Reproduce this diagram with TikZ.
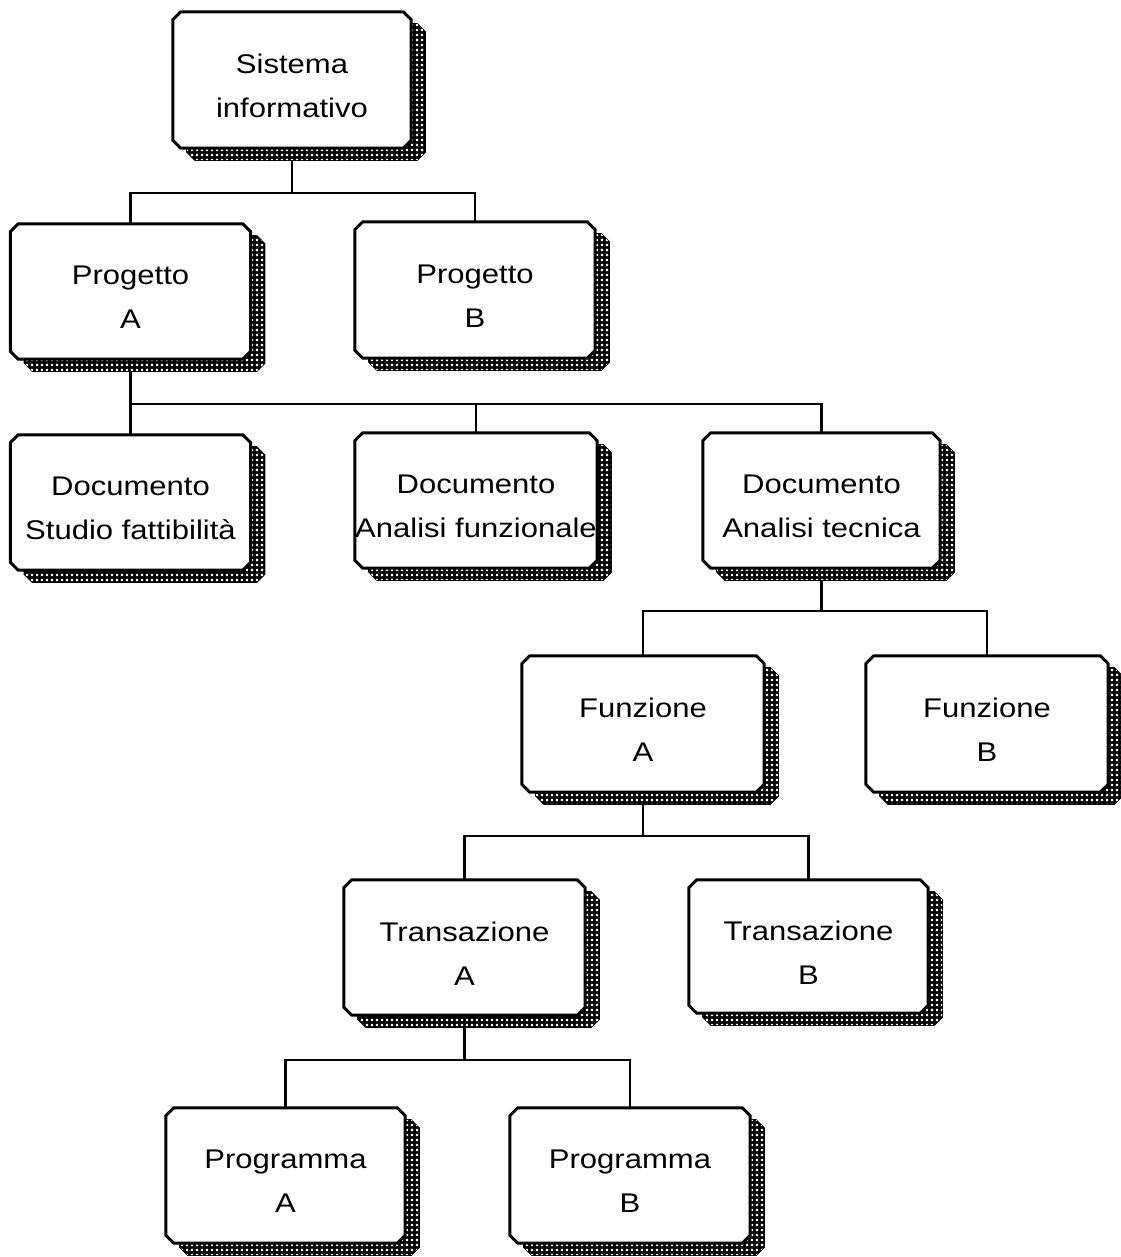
\documentclass[tikz,border=0pt]{standalone}
\usepackage{fontspec}
\setmainfont{Liberation Sans}[FakeStretch=1.15]
\usetikzlibrary{patterns,backgrounds}
\pgfdeclarepatternformonly{whitedots}{\pgfpointorigin}{\pgfqpoint{5pt}{5pt}}{\pgfqpoint{5pt}{5pt}}{%
  \pgfpathrectangle{\pgfqpoint{1pt}{1pt}}{\pgfqpoint{2.6pt}{2.6pt}}%
  \pgfusepath{fill}}
\newcommand\champath[3]{([shift={(#2+8pt,#3)}]#1.north west) -- ([shift={(#2-8pt,#3)}]#1.north east) -- ([shift={(#2,#3-8pt)}]#1.north east) -- ([shift={(#2,#3+8pt)}]#1.south east) -- ([shift={(#2-8pt,#3)}]#1.south east) -- ([shift={(#2+8pt,#3)}]#1.south west) -- ([shift={(#2,#3+8pt)}]#1.south west) -- ([shift={(#2,#3-8pt)}]#1.north west) -- cycle}
\newcommand\chambox[1]{%
  \path[shadowbase] \champath{#1}{14pt}{-12pt};
  \path[shadowdots] \champath{#1}{14pt}{-12pt};
  \path[boxfill] \champath{#1}{0pt}{0pt};}
\tikzset{
  boxnode/.style={draw=none, inner sep=0pt,
    label={[boxtext]center:#1}},
  boxtext/.style={inner sep=0pt, align=center, yshift=-6pt,
    font=\fontsize{27}{44}\selectfont},
  shadowbase/.style={fill=black, draw=black, line width=1.2pt},
  shadowdots/.style={pattern=whitedots, pattern color=white},
  boxfill/.style={fill=white, draw=black, line width=3pt},
  conn/.style={draw=black, line width=2.5pt}
}
\begin{document}
\begin{tikzpicture}[x=1pt,y=-1pt]
\useasboundingbox (0,0) rectangle (1120,1257);
\node[boxnode={Sistema\\informativo}, minimum width=238pt, minimum height=136pt] (sis) at (292,80) {};
\node[boxnode={Progetto\\A}, minimum width=240pt, minimum height=135pt] (pa) at (130.5,291.5) {};
\node[boxnode={Progetto\\B}, minimum width=240pt, minimum height=136pt] (pb) at (475,290) {};
\node[boxnode={Documento\\Studio fattibilità}, minimum width=240pt, minimum height=135pt] (d1) at (130.5,502.5) {};
\node[boxnode={Documento\\Analisi funzionale}, minimum width=242pt, minimum height=135pt] (d2) at (476,500.5) {};
\node[boxnode={Documento\\Analisi tecnica}, minimum width=237pt, minimum height=135pt] (d3) at (821.5,500.5) {};
\node[boxnode={Funzione\\A}, minimum width=242pt, minimum height=136pt] (fa) at (643,724) {};
\node[boxnode={Funzione\\B}, minimum width=242pt, minimum height=136pt] (fb) at (987,724) {};
\node[boxnode={Transazione\\A}, minimum width=241pt, minimum height=135pt] (ta) at (464.5,947.5) {};
\node[boxnode={Transazione\\B}, minimum width=239pt, minimum height=133pt] (tb) at (808.5,946.5) {};
\node[boxnode={Programma\\A}, minimum width=239pt, minimum height=135pt] (pga) at (285.5,1175.5) {};
\node[boxnode={Programma\\B}, minimum width=240pt, minimum height=135pt] (pgb) at (630,1175.5) {};
\coordinate (j1) at (292,193);
\coordinate (j2) at (130.5,404);
\coordinate (j3) at (821.5,611);
\coordinate (j4) at (643,836);
\coordinate (j5) at (464.5,1060);
\begin{scope}[on background layer]
\path[conn] (sis.south) -- (j1);
\path[conn] (pa.north) |- (j1) -| (pb.north);
\path[conn] (pa.south) -- (d1.north);
\path[conn] (j2) -| (d2.north);
\path[conn] (j2) -| (d3.north);
\path[conn] (d3.south) -- (j3);
\path[conn] (fa.north) |- (j3) -| (fb.north);
\path[conn] (fa.south) -- (j4);
\path[conn] (ta.north) |- (j4) -| (tb.north);
\path[conn] (ta.south) -- (j5);
\path[conn] (pga.north) |- (j5) -| (pgb.north);
\chambox{sis}
\chambox{pa}
\chambox{pb}
\chambox{d1}
\chambox{d2}
\chambox{d3}
\chambox{fa}
\chambox{fb}
\chambox{ta}
\chambox{tb}
\chambox{pga}
\chambox{pgb}
\end{scope}
\end{tikzpicture}
\end{document}
